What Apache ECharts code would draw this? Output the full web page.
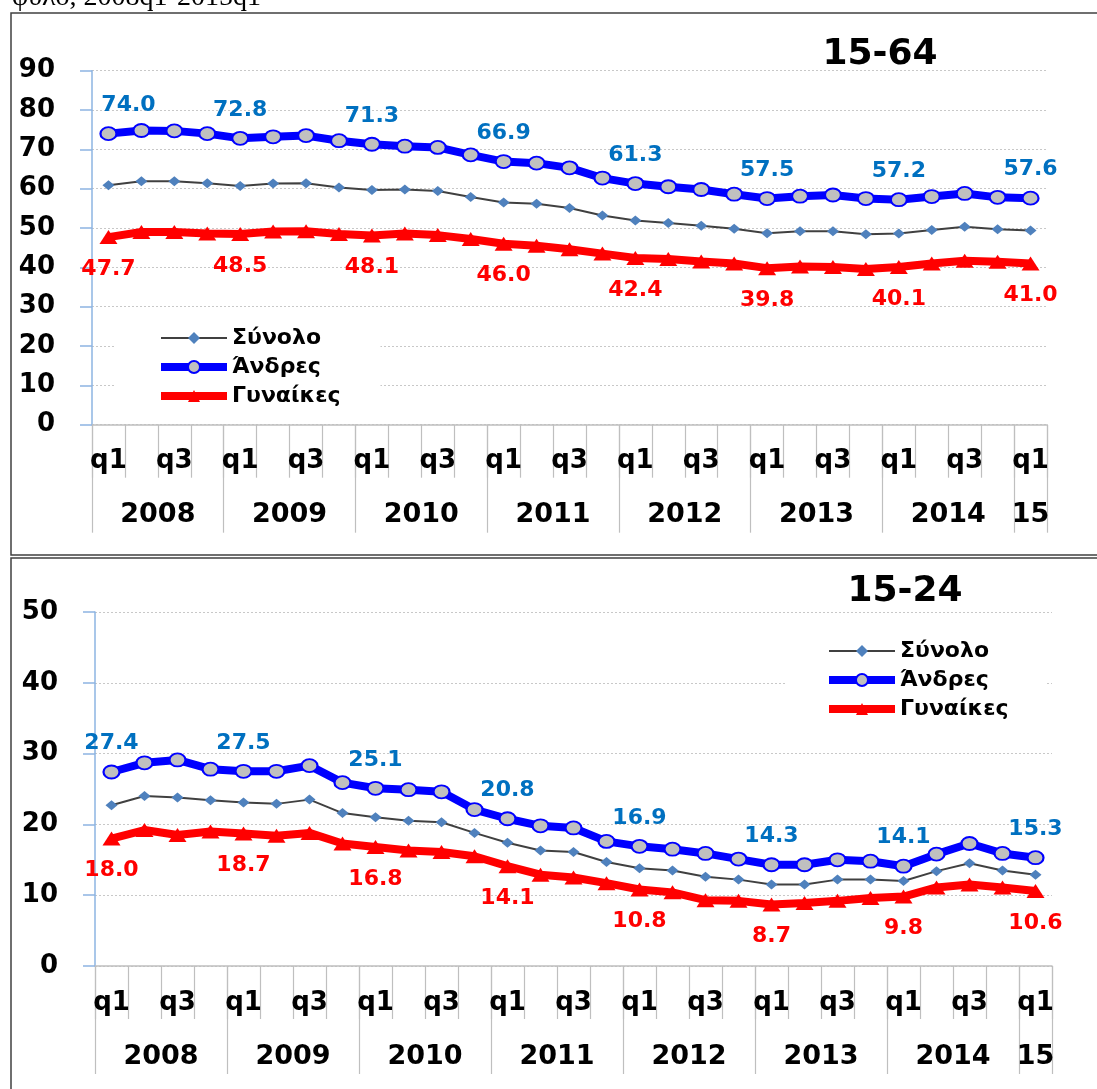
<!DOCTYPE html>
<html>
<head>
<meta charset="utf-8">
<script src="https://cdn.jsdelivr.net/npm/echarts@6/dist/echarts.min.js"></script>
<style>
html,body{margin:0;padding:0;background:#fff;}
#c{width:1097px;height:1089px;}
</style>
</head>
<body>
<div id="c"></div>
<script>
// ---- data ----
const quarters = ['q1','q2','q3','q4','q1','q2','q3','q4','q1','q2','q3','q4','q1','q2','q3','q4',
                  'q1','q2','q3','q4','q1','q2','q3','q4','q1','q2','q3','q4','q1'];
const yearLabels = ['2008','2009','2010','2011','2012','2013','2014','15'];
const seriesNames = ['Σύνολο','Άνδρες','Γυναίκες'];

const total64 = [60.9,61.9,61.9,61.4,60.7,61.3,61.4,60.3,59.7,59.8,59.4,57.9,56.5,56.2,55.1,53.2,51.9,51.3,50.6,49.8,48.7,49.2,49.2,48.4,48.6,49.5,50.3,49.7,49.4];
const men64   = [74.0,74.8,74.7,74.0,72.8,73.2,73.5,72.2,71.3,70.8,70.5,68.6,66.9,66.5,65.3,62.7,61.3,60.5,59.8,58.6,57.5,58.1,58.4,57.5,57.2,58.0,58.8,57.8,57.6];
const women64 = [47.7,49.0,49.0,48.6,48.5,49.1,49.2,48.5,48.1,48.6,48.2,47.2,46.0,45.5,44.6,43.5,42.4,42.1,41.5,41.0,39.8,40.2,40.1,39.6,40.1,41.0,41.7,41.4,41.0];

const total24 = [22.7,24.0,23.8,23.4,23.1,22.9,23.5,21.6,21.0,20.5,20.3,18.8,17.4,16.3,16.1,14.7,13.8,13.5,12.6,12.2,11.5,11.5,12.2,12.2,12.0,13.4,14.5,13.5,12.9];
const men24   = [27.4,28.7,29.1,27.8,27.5,27.5,28.3,25.9,25.1,24.9,24.6,22.1,20.8,19.8,19.5,17.6,16.9,16.5,15.9,15.1,14.3,14.3,15.0,14.8,14.1,15.8,17.3,15.9,15.3];
const women24 = [18.0,19.2,18.5,19.0,18.7,18.4,18.8,17.3,16.8,16.3,16.1,15.5,14.1,12.9,12.5,11.7,10.8,10.4,9.3,9.2,8.7,8.9,9.2,9.6,9.8,11.1,11.5,11.1,10.6];

const titles = ['15-64','15-24'];
const yMax = [90, 50];
const headerText = 'φύλο, 2008q1-2015q1';

// ---- derived year groups (from quarters) ----
const n = quarters.length;
const groupStarts = [];
quarters.forEach((q,i)=>{ if(q==='q1') groupStarts.push(i); });
const boundaries = groupStarts.concat([n]);
const yearCenters = groupStarts.map((s,k)=> (s + boundaries[k+1]) / 2);
const yearByCenter = {};
yearCenters.forEach((c,k)=>{ yearByCenter[c] = yearLabels[k]; });

const FONT = 'DejaVu Sans';
const bold = (size, color) => ({fontFamily: FONT, fontWeight: 'bold', fontSize: size, color: color || '#000'});

const grids = [
  {left: 92, top: 70.7, width: 955, height: 354},
  {left: 95, top: 612, width: 957, height: 354}
];

const xAxes = [], yAxes = [], series = [];
grids.forEach((g, gi) => {
  xAxes.push({
    type: 'category', gridIndex: gi, data: quarters, boundaryGap: true,
    axisLine: {lineStyle: {color: '#BFBFBF', width: 1.5}},
    axisTick: {show: true, interval: 0, length: 53, lineStyle: {color: '#BFBFBF', width: 1.2}},
    axisLabel: Object.assign({interval: 1, margin: 24}, bold(26)),
    splitLine: {show: false}
  });
  xAxes.push({
    type: 'value', gridIndex: gi, min: 0, max: n, position: 'bottom',
    axisLine: {show: false},
    axisTick: {show: true, customValues: boundaries, length: 108, lineStyle: {color: '#BFBFBF', width: 1.2}},
    axisLabel: Object.assign({customValues: yearCenters, margin: 77, formatter: v => yearByCenter[v] || ''}, bold(27)),
    splitLine: {show: false}
  });
  yAxes.push({
    type: 'value', gridIndex: gi, min: 0, max: yMax[gi], interval: 10,
    axisLine: {show: true, lineStyle: {color: '#8DB4E2', width: 1.5}},
    axisTick: {show: true, inside: false, length: 12, lineStyle: {color: '#8DB4E2', width: 1.5}},
    axisLabel: Object.assign({margin: 37}, bold(26)),
    splitLine: {show: true, lineStyle: {color: '#C8C8C8', type: [2, 2], width: 1}}
  });
});

function labelFmt(p){ return p.dataIndex % 4 === 0 ? Number(p.value).toFixed(1) : ''; }

const panels = [
  {total: total64, men: men64, women: women64},
  {total: total24, men: men24, women: women24}
];
panels.forEach((pd, gi) => {
  const xi = gi * 2;
  series.push({
    name: seriesNames[0], type: 'line', xAxisIndex: xi, yAxisIndex: gi, data: pd.total,
    symbol: 'diamond', symbolSize: [12, 10], z: 3,
    itemStyle: {color: '#4F81BD'}, lineStyle: {color: '#404040', width: 2},
    label: {show: false}
  });
  series.push({
    name: seriesNames[1], type: 'line', xAxisIndex: xi, yAxisIndex: gi,
    data: pd.men.map((v, i) => (gi === 0 && i === 0) ? {value: v, label: {offset: [20, 0]}} : v),
    symbol: 'circle', symbolSize: [16, 13], z: 4,
    itemStyle: {color: '#C0C0C0', borderColor: '#0000FF', borderWidth: 2},
    lineStyle: {color: '#0000FF', width: 8},
    label: Object.assign({show: true, position: 'top', distance: 10, formatter: labelFmt}, bold(22, '#0070C0'))
  });
  series.push({
    name: seriesNames[2], type: 'line', xAxisIndex: xi, yAxisIndex: gi, data: pd.women,
    symbol: 'triangle', symbolSize: [18, 14], z: 4,
    itemStyle: {color: '#FF0000'}, lineStyle: {color: '#FF0000', width: 8},
    label: Object.assign({show: true, position: 'bottom', distance: 14, formatter: labelFmt}, bold(22, '#FF0000'))
  });
});

const legendWidths = [2, 8, 8];
const legendBase = {
  data: seriesNames.map((nm, k) => ({name: nm, lineStyle: {width: legendWidths[k]}})),
  orient: 'vertical', itemWidth: 66, itemHeight: 15, itemGap: 7,
  backgroundColor: '#fff', selectedMode: false,
  textStyle: Object.assign({lineHeight: 18}, bold(22))
};

const option = {
  animation: false,
  backgroundColor: '#fff',
  grid: grids,
  xAxis: xAxes,
  yAxis: yAxes,
  legend: [
    Object.assign({}, legendBase, {left: 115, top: 319, padding: [8, 40, 8, 42]}),
    Object.assign({}, legendBase, {left: 787, top: 632, padding: [8, 38, 8, 38]})
  ],
  series: series,
  graphic: [
    {type: 'rect', shape: {x: 11, y: 13, width: 1100, height: 542}, style: {fill: 'none', stroke: '#404040', lineWidth: 1.5}, z: 100, silent: true},
    {type: 'rect', shape: {x: 11, y: 558, width: 1100, height: 600}, style: {fill: 'none', stroke: '#404040', lineWidth: 1.5}, z: 100, silent: true},
    {type: 'text', x: 880, y: 55, style: {text: titles[0], font: 'bold 36px "DejaVu Sans"', fill: '#000', align: 'center', verticalAlign: 'middle'}, z: 100},
    {type: 'text', x: 905, y: 592, style: {text: titles[1], font: 'bold 36px "DejaVu Sans"', fill: '#000', align: 'center', verticalAlign: 'middle'}, z: 100},
    {type: 'text', x: 12, y: 12, style: {text: headerText, font: '28px "Liberation Serif"', fill: '#000', align: 'left', verticalAlign: 'bottom'}, z: 100}
  ]
};

const chart = echarts.init(document.getElementById('c'), null, {renderer: 'canvas'});
chart.setOption(option);
</script>
</body>
</html>
